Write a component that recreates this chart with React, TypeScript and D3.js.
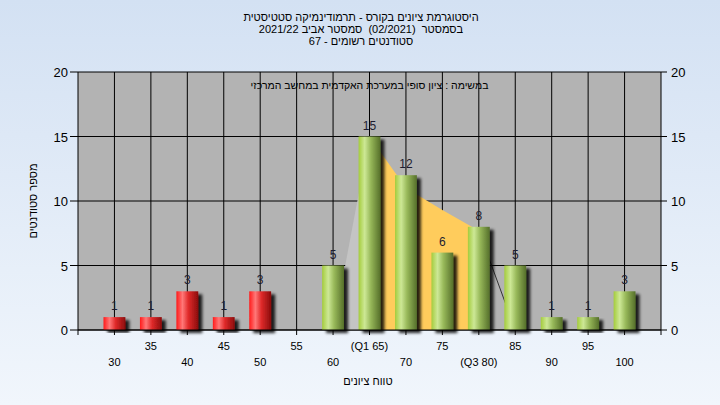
import React from "react";
import * as d3 from "d3";

const titleLines = [
  "היסטוגרמת ציונים בקורס - תרמודינמיקה סטטיסטית",
  "בסמסטר  (02/2021)  סמסטר אביב 2021/22",
  "סטודנטים רשומים - 67",
];
const noteText = "במשימה : ציון סופי במערכת האקדמית במחשב המרכזי";
const xTitle = "טווח ציונים";
const yTitle = "מספר סטודנטים";

const grades = [30, 35, 40, 45, 50, 55, 60, 65, 70, 75, 80, 85, 90, 95, 100];
const counts = [1, 1, 3, 1, 3, 0, 5, 15, 12, 6, 8, 5, 1, 1, 3];
const gradeLabels = ["30", "35", "40", "45", "50", "55", "60", "(Q1 65)", "70", "75", "(Q3 80)", "85", "90", "95", "100"];
const passGrade = 56;

const yTicks = [0, 5, 10, 15, 20];

// distribution outline drawn behind the bars
const distX = [60, 65, 70, 75, 80, 85];
const distV = [0, 15, 11, 9.3, 7.7, 0];
const q1 = 65;
const q3 = 80;

const W = 720;
const H = 405;
const FONT = "'Liberation Sans', Arial, 'DejaVu Sans', sans-serif";

export default function App() {
  const x = d3.scaleLinear().domain([25, 105]).range([78, 661]);
  const y = d3.scaleLinear().domain([0, 20]).range([330, 72]);
  const step = x(30) - x(25);
  const bw = step * 0.6;
  const [x0, x1] = x.range();
  const [yb, yt] = y.range();

  const pts = distX.map((g, i) => ({ g, v: distV[i] }));
  const area = d3
    .area<{ g: number; v: number }>()
    .x((d) => x(d.g))
    .y0(y(0))
    .y1((d) => y(d.v));
  const line = d3
    .line<{ g: number; v: number }>()
    .x((d) => x(d.g))
    .y((d) => y(d.v));
  const leftPart = pts.filter((d) => d.g <= q1);
  const midPart = pts.filter((d) => d.g >= q1 && d.g <= q3);
  const rightPart = pts.filter((d) => d.g >= q3);

  const gridX = d3.range(25, 106, 5);

  return (
    <svg width={W} height={H} style={{ position: "absolute", left: 0, top: 0, fontFamily: FONT }}>
      <defs>
        <linearGradient id="bg" x1="0" y1="0" x2="0" y2="1">
          <stop offset="0" stopColor="#d3e1f3" />
          <stop offset="1" stopColor="#f1f6fc" />
        </linearGradient>
        <linearGradient id="green" x1="0" y1="0" x2="1" y2="0">
          <stop offset="0" stopColor="#a4cc3c" />
          <stop offset="0.28" stopColor="#cde896" />
          <stop offset="0.55" stopColor="#98b95a" />
          <stop offset="1" stopColor="#556f2a" />
        </linearGradient>
        <linearGradient id="red" x1="0" y1="0" x2="1" y2="0">
          <stop offset="0" stopColor="#ff1a1a" />
          <stop offset="0.28" stopColor="#ff7878" />
          <stop offset="0.55" stopColor="#e02a2a" />
          <stop offset="1" stopColor="#8a0c0c" />
        </linearGradient>
        <filter id="shadow" x="-30%" y="-10%" width="170%" height="130%">
          <feGaussianBlur in="SourceAlpha" stdDeviation="1.8" />
          <feOffset dx="4" dy="3" result="off" />
          <feComponentTransfer>
            <feFuncA type="linear" slope="0.85" />
          </feComponentTransfer>
          <feMerge>
            <feMergeNode />
            <feMergeNode in="SourceGraphic" />
          </feMerge>
        </filter>
      </defs>

      <rect x={0} y={0} width={W} height={H} fill="url(#bg)" />

      {/* title */}
      {titleLines.map((t, i) => (
        <text
          key={i}
          x={361}
          y={21 + i * 12}
          textAnchor="middle"
          direction="rtl"
          fontSize={11}
          fill="#000"
          style={{ whiteSpace: "pre" }}
        >
          {t}
        </text>
      ))}

      {/* plot area */}
      <rect x={x0} y={yt} width={x1 - x0} height={yb - yt} fill="#b3b3b3" />

      {/* grid */}
      {gridX.map((g) => (
        <line key={"gx" + g} x1={x(g)} x2={x(g)} y1={yt} y2={yb + 5} stroke="#000" strokeWidth={1} />
      ))}
      {yTicks.map((t) => (
        <line key={"gy" + t} x1={x0 - 8} x2={x1 + 6} y1={y(t)} y2={y(t)} stroke="#000" strokeWidth={1} />
      ))}

      {/* distribution area */}
      <path d={area(leftPart) || ""} fill="#c4c4c4" />
      <path d={area(midPart) || ""} fill="#ffcc5c" />
      <path d={line(rightPart.slice(0, 2)) || ""} fill="none" stroke="#333" strokeWidth={1} />

      {/* note */}
      <text x={(x0 + x1) / 2} y={89} textAnchor="middle" direction="rtl" fontSize={10.5} fill="#000">
        {noteText}
      </text>

      {/* bars */}
      {grades.map((g, i) =>
        counts[i] > 0 ? (
          <rect
            key={"b" + g}
            x={x(g) - bw / 2}
            y={y(counts[i])}
            width={bw}
            height={y(0) - y(counts[i])}
            fill={g < passGrade ? "url(#red)" : "url(#green)"}
            filter="url(#shadow)"
          />
        ) : null
      )}

      {/* value labels */}
      {grades.map((g, i) =>
        counts[i] > 0 ? (
          <text key={"v" + g} x={x(g)} y={y(counts[i]) - 7} textAnchor="middle" fontSize={12} fill="#1c1c30">
            {counts[i]}
          </text>
        ) : null
      )}

      {/* x axis line */}
      <line x1={x0} x2={x1} y1={yb} y2={yb} stroke="#000" />

      {/* x labels staggered */}
      {grades.map((g, i) => (
        <text key={"xl" + g} x={x(g)} y={i % 2 === 1 ? 350 : 366} textAnchor="middle" fontSize={11} fill="#000">
          {gradeLabels[i]}
        </text>
      ))}

      {/* y tick labels */}
      {yTicks.map((t) => (
        <text key={"yl" + t} x={x0 - 10} y={y(t) + 5} textAnchor="end" fontSize={13} fill="#000">
          {t}
        </text>
      ))}
      {yTicks.map((t) => (
        <text key={"yr" + t} x={x1 + 10} y={y(t) + 5} textAnchor="start" fontSize={13} fill="#000">
          {t}
        </text>
      ))}

      {/* axis titles */}
      <text x={368} y={385} textAnchor="middle" direction="rtl" fontSize={11} fill="#000">
        {xTitle}
      </text>
      <text
        transform={`translate(37, ${(yt + yb) / 2}) rotate(-90)`}
        textAnchor="middle"
        direction="rtl"
        fontSize={11}
        fill="#000"
      >
        {yTitle}
      </text>
    </svg>
  );
}
